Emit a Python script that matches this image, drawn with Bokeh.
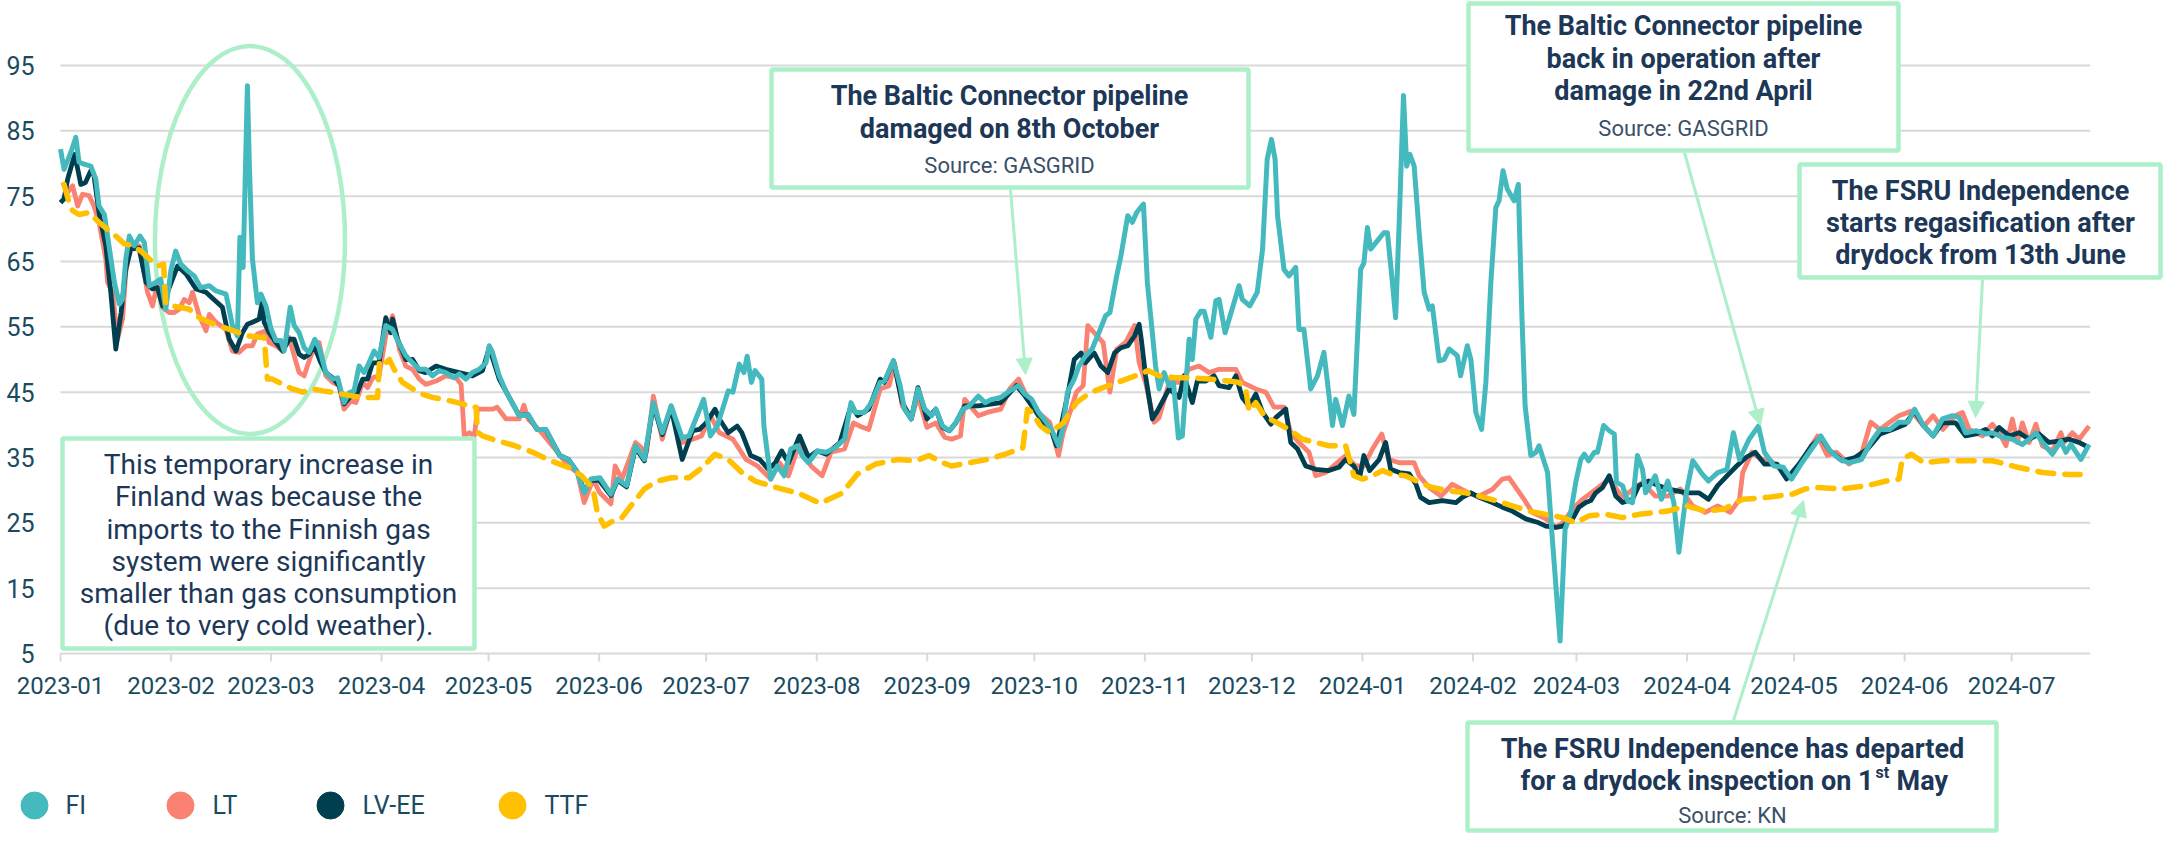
import numpy as np
import pandas as pd
from bokeh.plotting import figure
from bokeh.models import Range1d, Arrow, NormalHead
from bokeh.core.properties import value
from bokeh.embed import file_html
from bokeh.resources import INLINE

START = pd.Timestamp("2023-01-01")

# ---------------- data: day offset from 2023-01-01, price ----------------
fi_days = [0, 1, 2.9, 4.3, 5.2, 6.6, 8.5, 9.9, 10.8, 12.3, 13.6, 15.1, 16.5, 17.4, 18.3, 19.3, 20.7, 22.3, 23.5, 24.9,
           26.7, 28.1, 29.5, 31, 32.3, 33.7, 35.6, 37.5, 39.3, 41.7, 43.6, 46.4, 48.2, 49.6, 50.3, 51.2, 52.4, 52.9, 53.8,
           55.2, 56.2, 57.6, 59, 60.4, 61.8, 62.7, 64.4, 65.5, 66.9, 68.3, 69.7, 71.3, 72.5, 74.4, 76.3, 77.7, 79.5, 80.9,
           82.3, 83.7, 85.1, 86.5, 87.9, 89.3, 91.2, 93.1, 94.5, 96.8, 98.7, 100.6, 102.4, 104.3, 106.2, 108, 110.4, 111.8,
           113.6, 115.5, 117.4, 119.3, 120.2, 121.1,
           123, 125, 128.6, 131.1, 133.6, 136.1, 139.9, 142.4, 144.9, 146.8, 148.7, 151.2, 154.3, 156.2, 158.7, 161.2,
           163.7, 166.2, 168.7, 171.2, 174.3, 176.2,
           180.3, 182.2, 184.1, 187.2, 188.5, 190.3, 191.6, 192.5, 193.7, 194.7, 196.6, 197.2, 199.1, 201, 202.9, 204.7,
           206.6, 207.9, 209.7, 212.2, 214.7, 217.2, 219.8, 221.6, 222.9, 225.4, 227.3, 229.8, 231, 233.5, 235.4, 236.6,
           238.5, 240.4, 242.3, 244.2, 245.4, 247.3, 249.2, 251, 253, 254.8, 257.3, 259.2, 261.1, 263.6, 266.1, 268.6,
           270.4, 272.3, 274.2, 276.1, 278, 279.8, 281.1, 282.3, 284.2, 285.5, 287.3, 289.2, 291.1, 293, 294.2, 296.1,
           297.3, 299.2, 300.5, 301.7, 303.6,
           304.7, 307, 308, 309.4, 310.8, 312, 313.4, 314.5, 316.4, 317.3, 318.3, 319.7, 320.6, 322.5, 323.9, 324.8,
           326.5, 330.4, 331.3, 333.4, 335.5, 337, 338.3, 339.5, 340.5, 341.2, 343, 344.4, 346.3, 347.2, 348.6, 350.5,
           352.4, 354.2, 356.6, 357.5, 359.4, 361.2, 362.6, 364.5, 365.4, 366.4, 367.3, 371, 372, 373.4, 374.3, 375.3,
           376.5, 377.4, 378.3, 379.5, 380.9, 382.3, 383.7, 384.6, 386.5, 387.9, 389.3, 391.6, 392.5, 394.4, 395.4,
           396.8, 398.4, 399.6, 401, 402.4, 403.3, 404.4, 405.6, 407.5, 408.7, 409.7, 410.6, 412.2, 413.6, 414.5, 416.9,
           418.1, 420.4, 421.8, 423.4, 424.8, 426.2, 427.2, 428.4, 430, 430.9, 432.6, 434.2, 435.6, 436.2, 437.9, 439.3,
           440.7, 442.1, 443.5,
           444.4, 447.1, 448.8, 450.6, 452.3, 453.7, 455.8, 457.6, 460.2, 462, 464.6, 467.2, 469, 470.7, 473.4, 476,
           477.7, 480.4, 483, 485.3, 488.2, 490.9, 493.5, 496.1, 498.8, 501.4, 504.9, 507.5, 510.1, 512.8, 515.4, 518,
           519.8, 522.4, 525,
           527.6, 530.4, 532.3, 534.1, 537, 539.7, 541.6, 544.4, 547.2, 550, 551.9, 553.8, 555.6, 558.4, 560.8, 562.2,
           563.6, 566.4, 568.7]
fi_vals = [82.2, 79.1, 81.7, 84.0, 80.2, 79.9, 79.6, 77.6, 73.5, 72.2, 67.4, 61.8, 58.5, 59.2, 65.4, 68.9, 67.4, 68.9,
           67.9, 61.3, 61.8, 62.3, 57.7, 63.8, 66.6, 64.6, 63.6, 62.8, 61.0, 61.3, 60.5, 60.0, 55.2, 53.6, 68.7, 64.1,
           91.9, 80.7, 65.4, 58.7, 60.0, 58.2, 54.7, 52.9, 52.9, 51.3, 58.0, 55.2, 54.1, 51.8, 51.1, 53.1, 51.8, 48.0,
           47.0, 47.2, 43.4, 44.9, 45.2, 49.0, 48.0, 49.5, 51.3, 50.3, 55.2, 54.6, 52.9, 50.6, 49.5, 48.5, 48.5, 47.5,
           48.3, 48.0, 47.2, 47.8, 47.0, 48.0, 48.5, 49.5, 52.1, 51.1,
           47.5, 45.0, 41.4, 41.6, 39.3, 39.3, 35.3, 34.7, 32.7, 29.6, 31.7, 31.9, 29.4, 31.7, 30.7, 36.8, 34.7, 43.4,
           38.8, 42.9, 38.0, 38.3,
           43.9, 38.3, 39.8, 45.2, 45.0, 49.3, 48.0, 50.5, 46.5, 48.3, 47.0, 39.8, 31.7, 33.7, 32.2, 36.3, 36.8, 35.3,
           34.2, 36.0, 35.8, 36.5, 37.8, 43.4, 41.9, 41.9, 43.4, 46.5, 46.7, 49.8, 46.0, 42.4, 40.9, 45.5, 42.4, 41.4,
           42.4, 39.8, 39.1, 40.3, 42.4, 42.9, 44.4, 43.4, 43.9, 44.2, 45.2, 46.0, 44.7, 43.9, 41.9, 40.6, 39.1, 36.8,
           39.8, 45.0, 47.0, 49.0, 50.5, 51.6, 54.1, 56.7, 57.2, 62.8, 65.9, 72.0, 71.0, 72.5, 73.8,
           61.8, 49.0, 45.5, 48.0, 46.0, 46.5, 38.0, 38.3, 53.1, 50.0, 56.2, 57.4, 57.4, 53.4, 59.0, 59.2, 54.1, 61.3,
           59.2, 58.2, 60.3, 66.9, 80.7, 83.7, 80.7, 72.0, 63.8, 62.8, 64.1, 54.6, 54.6, 45.5, 47.5, 51.1, 39.9, 43.9,
           39.9, 44.4, 41.6, 63.8, 64.8, 70.2, 66.9, 69.4, 69.4, 61.8, 56.4, 71.0, 90.4, 79.6, 81.4, 79.6, 69.4, 60.3,
           57.7, 58.2, 49.8, 50.0, 51.6, 50.6, 47.5, 52.1, 50.0, 41.9, 39.3, 46.5, 61.8, 73.3, 74.3, 78.9, 76.1, 74.3,
           76.8, 56.7, 42.9, 35.3, 35.8, 36.8, 32.7, 23.5, 6.9, 24.0, 26.6, 31.2, 34.7, 35.5, 34.5, 35.8, 35.8, 39.9,
           39.1, 38.6, 31.2, 30.7, 28.4, 28.1, 35.3, 33.2,
           29.6, 32.2, 28.6, 31.4, 28.1, 20.5, 29.6, 34.5, 32.5, 31.4, 32.7, 33.2, 38.8, 34.7, 37.8, 39.8, 35.8, 33.7,
           33.5, 31.7, 34.2, 36.3, 38.3, 36.0, 34.7, 34.2, 34.7, 37.3, 39.3, 39.3, 40.4, 40.4, 42.4, 39.8, 38.3,
           40.9, 41.4, 41.1, 38.8, 39.1, 38.6, 38.8, 38.1, 37.8, 37.0, 37.8, 38.8, 37.3, 35.5, 37.5, 35.8, 37.0, 34.7,
           37.0]

lt_days = [0.6, 2, 3.4, 4.8, 6.2, 8, 9.4, 10.8, 12.7, 13.2, 14.6, 16, 17.4, 18.3, 19.3, 22.1, 24.4, 25.8, 27.2, 28.6,
           30.5, 31.9, 33.3, 34.7, 36.1, 37, 38.9, 40.8, 41.7, 43.6, 46.4, 48.2, 50.1, 52, 53.8, 55.2, 57.6, 58.5, 60.4,
           62.3, 64.1, 65.5, 66.9, 68.3, 70.2, 72.5, 74.4, 76.3, 78.1, 79.5, 81.4, 82.8, 84.7, 86.1, 87.5, 89.3, 91.2,
           93.1, 95, 96.8, 98.7, 100.6, 102.4, 105.3, 108, 110.9, 112.3, 113.2, 114.6, 116, 116.9, 118.3, 121.1,
           122.4, 124.9, 128.6, 129.9, 131.1, 134.9, 138.6, 142.4, 144.9, 146.8, 149.3, 151.2, 154.3, 155.5, 157.4,
           161.2, 164.3, 166.2, 168.7, 171.2, 174.3, 177.2,
           179.7, 182.2, 184.7, 188.5, 192.2, 195.4, 199.1, 201.6, 204.1, 207.2, 210.4, 213.5, 216, 219.8, 222.3, 224.1,
           226.6, 229.8, 232.3, 233.8, 236, 238.5, 240.4, 242.9, 245.4, 247.9, 249.8, 252.3, 253.5, 257.3, 259.8, 263.6,
           266.1, 268.6, 270.4, 274.2, 277.3, 279.8, 281.1, 283, 284.8, 286.7, 288, 289.8, 292.3, 294.2, 296.1, 298.6,
           301.1, 302.4, 304.2,
           306.6, 308, 310.8, 313.6, 316.4, 319.2, 322, 324.8, 329.5, 331.3, 335.1, 337.9, 340.2, 343, 344.9, 347.2,
           350, 351.9, 354.7, 357.5, 360.3, 363.1, 365.4, 367.8, 370.4, 372.4, 375.3, 379.5, 380.9, 383.7, 387, 390.2,
           393, 395.4, 397.7, 401.4, 404.2, 406.1, 408.4, 410.3, 412.6, 416.4, 419.2, 421.1, 423.9, 426.7, 430.4, 434.2,
           437.9, 440.7, 443.5,
           447.1, 450.6, 454.1, 457.6, 461.1, 464.6, 468.1, 470.7, 471.6, 474.2, 476.9, 479.5, 482.1, 484.8, 488.2,
           492.6, 495.3, 497.9, 501.4, 504.9, 507.5, 510.1, 512.8, 515.4, 518.9, 522.4, 525, 527.7, 531.2,
           533.2, 535.1, 538.8, 541.6, 543.5, 545.4, 547.2, 548.6, 550, 551.9, 553.8, 555.6, 558.4, 560.8, 561.7, 564,
           565.9, 568.7]
lt_vals = [77.1, 75.6, 76.6, 73.5, 75.3, 75.1, 73.5, 71.0, 65.4, 61.8, 60.3, 53.1, 56.2, 63.3, 66.9, 67.4, 60.3, 58.2,
           61.8, 58.0, 57.2, 57.2, 57.7, 59.2, 58.7, 60.3, 56.7, 54.4, 56.9, 55.7, 54.6, 51.3, 51.1, 52.1, 52.1, 53.9,
           54.4, 52.6, 52.1, 51.3, 53.4, 50.6, 48.0, 47.5, 50.6, 52.6, 47.5, 46.5, 46.0, 42.4, 43.7, 43.4, 46.5, 45.7,
           47.2, 47.5, 53.6, 56.7, 51.6, 49.0, 48.5, 47.0, 46.2, 46.7, 47.5, 47.2, 46.2, 38.3, 38.8, 38.3, 42.4, 42.4,
           42.4,
           42.7, 40.9, 40.9, 43.0, 40.9, 38.8, 36.3, 33.7, 32.7, 28.1, 31.7, 29.6, 27.9, 33.7, 31.7, 37.3, 35.8, 44.4,
           37.8, 42.9, 37.3, 37.8,
           38.3, 41.4, 38.8, 37.8, 34.7, 33.7, 31.7, 34.2, 32.2, 37.3, 33.7, 32.2, 35.8, 36.3, 40.3, 39.8, 39.3, 45.5,
           46.0, 49.5, 42.9, 40.9, 44.4, 39.6, 40.3, 38.1, 37.8, 38.3, 43.9, 41.4, 41.9, 42.4, 45.5, 47.0, 44.9, 41.9,
           40.4, 35.3, 38.8, 41.9, 45.0, 46.0, 55.2, 54.1, 52.6, 45.0, 51.6, 52.6, 55.2, 49.5, 46.5,
           40.4, 41.1, 46.5, 46.5, 48.5, 49.0, 48.0, 48.5, 48.5, 46.5, 45.5, 45.0, 42.7, 42.7, 38.8, 37.3, 35.8, 32.2,
           32.7, 34.0, 35.3, 33.7, 33.7, 36.3, 38.6, 34.7, 34.2, 34.2, 32.2, 30.4, 29.1, 30.9, 30.1, 29.4, 29.1, 30.1,
           31.7, 31.9, 30.1, 28.6, 26.6, 25.6, 24.3, 25.0, 27.1, 28.6, 30.1, 31.7, 28.9, 30.1, 31.2,
           29.1, 29.1, 30.2, 27.6, 26.6, 27.6, 26.6, 28.6, 32.7, 35.8, 34.7, 34.5, 33.2, 31.9, 34.5, 38.3, 35.3, 35.8,
           34.0, 35.5, 40.4, 39.3, 40.4, 41.4, 42.1, 39.8, 41.4, 39.3, 41.4,
           41.9, 39.3, 38.3, 40.1, 38.8, 36.8, 40.9, 37.3, 40.3, 37.3, 40.1, 36.8, 36.0, 38.8, 37.3, 38.8, 37.8, 39.8]

lvee_days = [0, 1, 2, 4, 5.7, 7, 8.5, 9.4, 10.8, 12.7, 14.1, 15.5, 17, 18.3, 19.7, 22, 24, 25.8, 27.2, 28.6, 30, 32.8,
             35.2, 38, 40.8, 43, 45.4, 47.3, 49.2, 51, 52.4, 53.8, 55.7, 56.5, 57.1, 58.5, 60.4, 62.3, 64.1, 65.5, 66.9,
             68.3, 69.7, 71.1, 73, 74.4, 76.3, 78.1, 79.5, 81.4, 82.8, 84.7, 86.1, 87.5, 89.3, 91.2, 92.6, 93.1, 94.5,
             96.8, 98.7, 100.6, 102.4, 105.3, 108, 111.8, 115.5, 118.3, 120.2,
             123, 125, 128.6, 131, 133.6, 136, 140, 142.4, 145, 146.8, 148.7, 151, 154.3, 156.2, 158.7, 161.2, 163.7,
             166.2, 168.7, 171.2, 174.3,
             177.2, 179.1, 181, 183.5, 184.7, 187.2, 189.7, 191, 193.5, 196, 198.5, 200.4, 202.2, 204.1, 207.2, 209.7,
             212.2, 214.7, 218.5, 221.6, 223.5, 226.6, 229.8, 231, 233.5, 236, 238.5, 240.4, 242.9, 245.4, 247.3, 249.2,
             251, 253.5, 257.3, 259.8, 263.6, 266.1, 268, 270.4, 273.6, 276.1, 278, 279.2, 280.5, 282.3, 284.2, 286.1,
             287.3, 289.8, 291.7, 293.6, 295.5, 297.3, 299.2, 301.1, 302.4, 303,
             304.2, 306.1, 307.5, 310.8, 313.6, 315, 317.3, 318.7, 321.1, 323.4, 324.8, 327.6, 329.5, 331.3, 333.2,
             335.1, 337, 339.3, 340.7, 343.5, 344.9, 346.8, 349.1, 351.9, 355.6, 358.4, 360.3, 362.6, 364.2, 365.4, 367,
             369.7, 371.5, 372.9, 375.3, 378.1, 380, 381.3, 383.7, 387.4, 391.2, 393, 395.4, 397.7, 401.4, 404.2, 407,
             410.8, 414, 416.4, 419.2, 421.1, 423.9, 425.7, 427.6, 429, 430.4, 432.3, 434.2, 436, 437.9, 440.7, 442.5,
             445.3, 447.9, 450.6, 453.2, 455.8, 459.3, 462, 464.6, 467.2, 469.9, 472.5, 475.1, 477.7, 481.2, 483.9,
             487.4, 490.9, 493.5, 496.1, 499.6, 503.1, 506.6, 510.1, 513.6, 517.2, 519.8, 522.4, 525,
             527.6, 531.3, 534.1, 537, 539.7, 541.6, 543.5, 546.3, 549.1, 551.9, 554.7, 557.5, 560.3, 563.1, 565.9,
             568.7]
lvee_vals = [74.0, 74.6, 77.6, 81.4, 76.8, 77.1, 78.9, 78.1, 72.5, 67.4, 60.3, 51.6, 57.2, 63.8, 66.9, 67.1, 61.8, 60.8,
             61.0, 58.2, 60.3, 64.3, 63.1, 60.8, 60.3, 59.2, 58.0, 53.1, 51.3, 54.1, 55.4, 55.7, 56.2, 58.7, 55.7, 54.1,
             52.6, 51.3, 53.1, 53.1, 50.8, 50.3, 50.8, 52.1, 49.5, 48.0, 47.2, 46.0, 43.2, 44.4, 44.4, 47.0, 47.0, 49.5,
             49.5, 56.4, 54.1, 56.2, 53.1, 50.0, 50.0, 48.3, 48.0, 49.0, 48.5, 48.0, 47.5, 48.3, 51.8,
             47.0, 45.0, 41.4, 41.6, 39.3, 39.3, 35.3, 34.7, 32.7, 29.8, 31.5, 31.5, 29.2, 31.5, 30.5, 36.5, 34.5, 43.0,
             38.5, 42.5, 34.7,
             39.1, 39.3, 40.3, 42.4, 40.9, 38.8, 39.8, 38.8, 35.3, 34.7, 33.2, 34.2, 36.0, 34.2, 38.3, 35.0, 36.0, 35.5,
             37.3, 42.9, 41.4, 42.4, 47.0, 46.5, 49.8, 43.4, 40.9, 45.7, 40.9, 42.4, 39.6, 39.1, 40.3, 42.9, 42.9, 43.1,
             43.4, 44.9, 46.0, 44.4, 41.9, 39.8, 38.8, 36.8, 39.8, 44.4, 50.0, 51.0, 49.5, 51.0, 49.0, 48.0, 51.0, 51.8,
             52.1, 53.6, 55.4, 53.1,
             47.5, 40.9, 42.1, 45.5, 44.2, 47.5, 43.4, 46.7, 46.7, 47.5, 46.0, 45.7, 47.5, 44.2, 42.9, 44.7, 41.9, 40.1,
             41.1, 42.4, 37.3, 36.3, 33.7, 33.2, 33.0, 33.5, 34.7, 33.7, 31.9, 35.3, 33.0, 34.7, 37.3, 33.2, 32.7, 32.5,
             30.9, 28.9, 28.1, 28.4, 28.1, 28.9, 29.6, 28.9, 28.1, 27.4, 26.8, 25.6, 25.1, 24.5, 24.3, 24.5, 25.6, 27.4,
             28.1, 28.4, 29.6, 30.4, 32.2, 29.1, 28.1, 28.6, 30.7,
             31.4, 30.7, 30.2, 29.9, 29.6, 29.6, 28.6, 30.7, 32.2, 33.7, 35.0, 35.8, 34.0, 34.0, 31.7, 34.0, 36.8, 38.1,
             36.0, 34.5, 35.0, 36.3, 38.6, 39.3, 40.1, 42.1, 39.8, 38.3,
             40.3, 40.3, 38.3, 38.6, 39.3, 38.3, 39.6, 38.3, 38.8, 37.8, 38.6, 37.3, 37.5, 37.8, 37.3, 36.5]

ttf_days = [1, 2.4, 3.4, 5.2, 8, 10.8, 13.2, 15.5, 17.9, 20.2, 22.5, 24.9, 27.2, 28.9, 29.5, 31.4, 33.3, 36.1, 38.9,
            41.7, 44.5, 47.3, 50.1, 52.9, 55.7, 57.1, 58, 59.4, 62.3, 65, 67.9, 70.7, 73.5, 76.3, 79.1, 81.9, 84.7, 87.5,
            88.9, 89.4, 90.3, 92.2, 94, 95.9, 98.7, 101.5, 104.3, 107.1, 109.9, 112.7, 115.5, 116.5, 116.9, 118.3,
            121.1, 127.4, 132.4, 137.4, 142.4, 146.1, 149.3, 150.5, 152.4, 154.9, 157.4, 159.9, 163.7, 167.4, 171.2,
            176.2, 180, 183.5, 187.2, 191, 194.7, 200, 207, 213, 219, 223.5, 228.5, 234.8, 239.8, 243.5, 247.3, 249.8,
            254.8, 259.8, 264.8, 269.8, 271.1, 272.3, 274.8, 277.3, 281.1, 284.8, 288.6, 292.3, 297.3, 302.4, 304.9,
            308, 312.6, 317.3, 322, 327.6, 330.4, 332.3, 333.2, 335.1, 337.5, 340.7, 344.4, 348.2, 351.9, 355.6, 360.3,
            362.6, 365, 367.8, 370.6, 372.9, 377.1, 380.9, 384.6, 389.3, 393.9, 397.7, 402.4, 407, 411.7, 416.4, 421.1,
            424.8, 428.6, 433.3, 437.9, 442.5, 450.6, 455.8, 461.1, 466.3, 471.6, 478.6, 485.6, 489.1, 492.6, 499.6,
            506.6, 511.9, 515.4, 516.3, 518.9, 522.4, 527.7, 534.7, 541.7, 548.7, 555.7, 562.7, 566.2]
ttf_vals = [76.8, 74.0, 72.8, 72.2, 72.5, 71.0, 69.9, 68.9, 67.7, 67.4, 66.6, 65.4, 64.3, 64.6, 58.5, 58.2, 58.0, 57.7,
            56.4, 55.7, 55.2, 54.6, 54.1, 53.6, 53.4, 53.4, 47.0, 47.0, 46.2, 45.5, 45.0, 45.5, 45.2, 45.0, 44.7, 44.4,
            44.2, 44.2, 44.2, 49.5, 49.0, 50.0, 48.0, 46.5, 45.5, 44.7, 44.2, 43.9, 43.6, 43.2, 42.7, 42.7, 38.9, 38.3,
            37.8, 36.8, 35.8, 34.5, 33.5, 32.2, 30.2, 26.6, 24.5, 25.3, 25.8, 27.6, 30.2, 31.4, 31.9,
            31.9, 33.5, 35.5, 34.7, 32.7, 31.4, 30.5, 29.5, 28.0, 29.5, 32.5, 34.0, 34.7, 34.5, 35.3, 34.2, 33.7,
            34.2, 34.7, 35.5, 36.5, 42.4, 41.9, 39.8, 38.8, 40.3, 43.4, 44.9, 45.7, 46.7, 47.7, 48.3,
            47.5, 47.2, 47.2, 47.0, 46.7, 46.5, 45.5, 42.1, 43.4, 41.4, 40.4, 39.3, 37.8, 37.3, 36.8, 36.8,
            32.2, 31.7, 32.2, 33.0, 32.5, 32.2, 31.2, 30.4, 29.9, 29.6, 29.1, 28.4, 27.6, 26.8, 26.3, 25.8,
            25.0, 26.1, 26.3, 25.8, 26.3, 26.8, 27.6, 26.8, 27.1, 28.6, 28.9, 29.4, 30.2, 30.4, 30.2,
            30.7, 31.4, 31.7, 34.7, 35.5, 34.2, 34.5, 34.5, 34.5, 33.5, 32.7, 32.4, 32.4]

series_names = ["FI", "LT", "LV-EE", "TTF"]
series_colors = ["#44B9BE", "#FA8272", "#003F50", "#FFC000"]
month_labels = ["2023-01", "2023-02", "2023-03", "2023-04", "2023-05", "2023-06", "2023-07", "2023-08", "2023-09",
                "2023-10", "2023-11", "2023-12", "2024-01", "2024-02", "2024-03", "2024-04", "2024-05", "2024-06",
                "2024-07"]
y_ticks = [5, 15, 25, 35, 45, 55, 65, 75, 85, 95]
plot_end = "2024-07-23"

# ---------------- layout helpers (page pixels) ----------------
W, H, M = 2165, 834, 8
X0_PX, PX_PER_DAY = 68.0, 3.567
Y5_PX, PX_PER_UNIT = 661.0, 6.533
EPOCH = pd.Timestamp("1970-01-01")
DAY_MS = 86400000.0


def ms(ts):
    return (pd.Timestamp(ts) - EPOCH) / pd.Timedelta(milliseconds=1)


START_MS = ms(START)


def day_ms(d):
    return START_MS + np.asarray(d, dtype=float) * DAY_MS


def px_x(px):
    return START_MS + (px - X0_PX) / PX_PER_DAY * DAY_MS


def px_y(py):
    return 5 + (Y5_PX - py) / PX_PER_UNIT


MINT = "#ADEFC9"
TXT = "#1D3757"
AXT = "#1A4B60"
SRC = "#3B5068"
GRID = "#D9D9D9"

p = figure(width=W, height=H, title=None, x_axis_type=None, y_axis_type=None,
           x_range=Range1d(px_x(M), px_x(M + W)), y_range=Range1d(px_y(M + H), px_y(M)),
           toolbar_location=None, output_backend="svg", min_border=0,
           outline_line_color=None, background_fill_color="white", border_fill_color="white")

# gridlines and x ticks
end_ms = ms(plot_end)
p.segment(x0=[START_MS] * len(y_ticks), x1=[end_ms] * len(y_ticks), y0=y_ticks, y1=y_ticks,
          line_color=GRID, line_width=2)
month_ms = [ms(m + "-01") for m in month_labels]
p.segment(x0=month_ms, x1=month_ms, y0=[5] * len(month_ms), y1=[5 - 8 / PX_PER_UNIT] * len(month_ms),
          line_color=GRID, line_width=2)

# tick labels
p.text(x=month_ms, y=[5] * len(month_ms), text=month_labels, y_offset=32,
       text_align="center", text_baseline="middle", text_font=value("Roboto"),
       text_font_size="24px", text_color=AXT)
p.text(x=[START_MS] * len(y_ticks), y=y_ticks, text=[str(t) for t in y_ticks], x_offset=-26,
       text_align="right", text_baseline="middle", text_font=value("Roboto"),
       text_font_size="25px", text_color=AXT)

# highlight ellipse
p.ellipse(x=[px_x(257.5)], y=[px_y(247.5)], width=190, height=388, width_units="screen",
          height_units="screen", fill_color=None, line_color=MINT, line_width=4.5)

# series
p.line(day_ms(lt_days), lt_vals, line_color=series_colors[1], line_width=4.8, line_join="round")
p.line(day_ms(lvee_days), lvee_vals, line_color=series_colors[2], line_width=4.8, line_join="round")
p.line(day_ms(fi_days), fi_vals, line_color=series_colors[0], line_width=5, line_join="round")
p.line(day_ms(ttf_days), ttf_vals, line_color=series_colors[3], line_width=5.5, line_dash="16 11",
       line_cap="round", line_join="round")


# annotation boxes
def box(l, r, t, b):
    p.quad(left=[px_x(l)], right=[px_x(r)], top=[px_y(t)], bottom=[px_y(b)],
           fill_color="white", line_color=MINT, line_width=4.5)


def texts(lines, cx, ys, size, style="normal", color=TXT, align="center"):
    p.text(x=[px_x(cx)] * len(lines), y=[px_y(y) for y in ys], text=lines,
           text_align=align, text_baseline="middle", text_font=value("Roboto"),
           text_font_size=f"{size}px", text_font_style=style, text_color=color)


box(70, 482, 446, 656)
texts(["This temporary increase in", "Finland was because the", "imports to the Finnish gas",
       "system were significantly", "smaller than gas consumption", "(due to very cold weather)."],
      276, [472, 504, 537, 569, 601, 633], 28)

box(779, 1256, 77, 195)
texts(["The Baltic Connector pipeline", "damaged on 8th October"], 1017, [103, 136], 27, "bold")
texts(["Source: GASGRID"], 1017, [173], 22, color=SRC)

box(1476, 1906, 11, 158)
texts(["The Baltic Connector pipeline", "back in operation after", "damage in 22nd April"],
      1691, [33, 66, 98], 27, "bold")
texts(["Source: GASGRID"], 1691, [136], 22, color=SRC)

box(1807, 2168, 172, 285)
texts(["The FSRU Independence", "starts regasification after", "drydock from 13th June"],
      1988, [198, 230, 262], 27, "bold")

box(1475, 2004, 730, 838)
texts(["The FSRU Independence has departed"], 1740, [756], 27, "bold")
texts(["for a drydock inspection on 1"], 1881, [788], 27, "bold", align="right")
texts(["st"], 1883, [780], 16, "bold", align="left")
texts(["May"], 1904, [788], 27, "bold", align="left")
texts(["Source: KN"], 1740, [823], 22, color=SRC)

# arrows
for (x0, y0, x1, y1) in [(1018, 197, 1033, 382), (1692, 160, 1768, 433),
                         (1990, 287, 1983, 425), (1741, 728, 1811, 508)]:
    p.add_layout(Arrow(end=NormalHead(size=16, fill_color=MINT, line_color=MINT, line_width=1),
                       x_start=px_x(x0), y_start=px_y(y0), x_end=px_x(x1), y_end=px_y(y1),
                       line_color=MINT, line_width=3))

# legend
leg_dot = [42, 188, 338, 520]
leg_txt = [73, 220, 370, 552]
p.scatter(x=[px_x(v) for v in leg_dot], y=[px_y(813)] * 4, size=27, marker="circle",
          fill_color=series_colors, line_color=series_colors)
p.text(x=[px_x(v) for v in leg_txt], y=[px_y(813)] * 4, text=series_names,
       text_align="left", text_baseline="middle", text_font=value("Roboto"),
       text_font_size="25px", text_color=AXT)

open("out.html", "w").write(file_html(p, INLINE))
